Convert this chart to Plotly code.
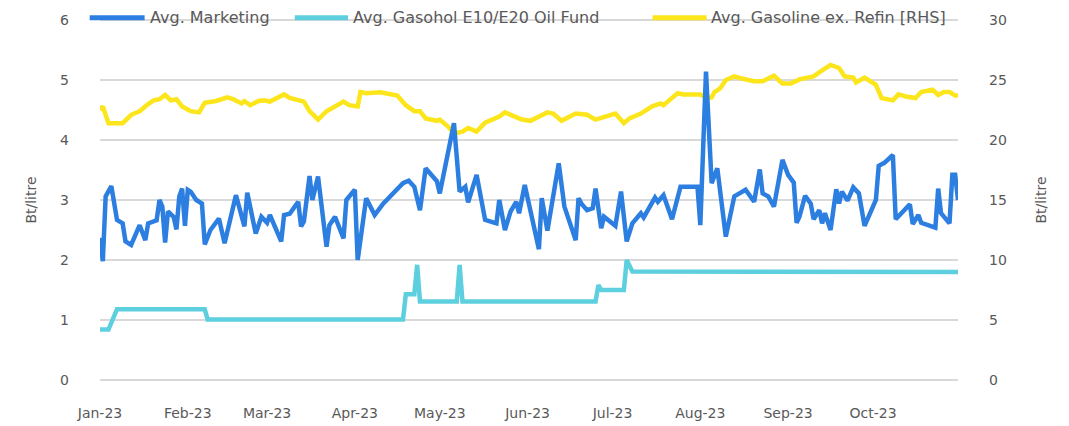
import pandas as pd
import plotly.graph_objects as go

# ---------------- data (day offset from 1 Jan 2023, value) ----------------
mkt_days = [0, 1, 2, 4, 6, 8, 9, 11, 14, 16, 17, 20, 21, 22, 23, 24, 26, 27, 28, 29,
            30, 31, 32, 34, 36, 37, 39, 42, 44, 46, 48, 51, 52, 55, 57, 59, 60, 64, 65, 67,
            70, 71, 72, 74, 75, 77, 80, 81, 83, 86, 87, 90, 91, 94, 97, 100, 106, 107, 109, 111,
            113, 115, 119, 120, 125, 127, 129, 130, 133, 136, 138, 140, 141, 143, 145, 147, 148, 150, 155, 156,
            158, 162, 164, 168, 169, 170, 172, 174, 175, 177, 178, 182, 184, 186, 188, 191, 192, 196, 197, 199,
            202, 205, 211, 212, 214, 216, 218, 221, 224, 227, 228, 231, 233, 234, 236, 238, 241, 243, 245, 246,
            247, 249, 251, 252, 254, 255, 256, 258, 260, 261, 262, 264, 266, 268, 270, 274, 275, 277, 280, 281,
            286, 287, 289, 290, 295, 296, 297, 300, 301, 302, 303]
mkt_vals = [2.37, 1.98, 3.06, 3.23, 2.67, 2.61, 2.31, 2.25, 2.58, 2.33, 2.61, 2.66, 3.0, 2.89, 2.29, 2.81, 2.72, 2.51, 3.06, 3.19,
            2.57, 3.17, 3.14, 3.0, 2.94, 2.26, 2.5, 2.69, 2.28, 2.72, 3.08, 2.56, 3.12, 2.44, 2.72, 2.62, 2.75, 2.31, 2.75, 2.77,
            2.97, 2.56, 2.64, 3.4, 3.0, 3.39, 2.22, 2.58, 2.72, 2.36, 3.0, 3.17, 2.0, 3.03, 2.75, 2.94, 3.22, 3.28, 3.32, 3.22,
            2.83, 3.53, 3.31, 3.11, 4.28, 3.14, 3.22, 2.96, 3.42, 2.67, 2.64, 2.61, 3.0, 2.5, 2.81, 2.97, 2.78, 3.25, 2.18, 3.03,
            2.49, 3.61, 2.89, 2.33, 3.03, 2.94, 2.83, 2.86, 3.19, 2.53, 2.72, 2.57, 3.14, 2.31, 2.61, 2.78, 2.71, 3.04, 2.97, 3.08,
            2.68, 3.22, 3.22, 2.58, 5.14, 3.28, 3.53, 2.39, 3.06, 3.14, 3.17, 2.97, 3.51, 3.11, 3.06, 2.89, 3.67, 3.42, 3.29, 2.62,
            2.72, 3.07, 2.94, 2.68, 2.83, 2.61, 2.78, 2.5, 3.18, 2.94, 3.14, 2.99, 3.21, 3.11, 2.57, 3.0, 3.57, 3.62, 3.75, 2.68,
            2.93, 2.6, 2.75, 2.62, 2.54, 3.19, 2.78, 2.61, 3.42, 3.42, 3.0]

fund_days = [0, 3, 6, 37, 38, 107, 108, 111, 112, 113, 126, 127, 128, 175, 176, 177, 185, 186, 188, 303]
fund_vals = [0.84, 0.84, 1.18, 1.18, 1.01, 1.01, 1.43, 1.43, 1.92, 1.31, 1.31, 1.92, 1.31, 1.31, 1.58, 1.5, 1.5, 2.0, 1.81, 1.8]

gas_days = [0, 1, 3, 8, 11, 14, 17, 19, 21, 23, 25, 27, 29, 32, 35, 37, 41, 45, 47, 50,
            51, 53, 56, 58, 60, 63, 65, 67, 70, 72, 74, 77, 80, 84, 86, 88, 91, 92, 94, 99,
            105, 108, 111, 113, 115, 119, 120, 123, 125, 128, 130, 132, 133, 136, 141, 143, 146, 149, 152, 155,
            158, 160, 163, 168, 172, 175, 182, 185, 187, 191, 195, 198, 199, 201, 204, 206, 212, 214, 216, 217,
            219, 221, 224, 227, 231, 234, 238, 241, 244, 247, 252, 255, 258, 261, 263, 266, 267, 270, 274, 276,
            280, 282, 285, 288, 290, 294, 296, 298, 300, 302, 303]
gas_vals = [22.5, 22.8, 21.4, 21.4, 22.1, 22.4, 23.0, 23.3, 23.4, 23.75, 23.3, 23.4, 22.8, 22.4, 22.3, 23.1, 23.25, 23.55, 23.4, 23.05,
            23.25, 22.9, 23.25, 23.3, 23.2, 23.5, 23.8, 23.5, 23.3, 23.2, 22.4, 21.7, 22.4, 22.9, 23.2, 22.9, 22.8, 24.0, 23.9, 23.97,
            23.7, 22.9, 22.4, 22.4, 21.8, 21.6, 21.7, 21.1, 20.55, 20.7, 21.0, 20.8, 20.7, 21.45, 21.95, 22.3, 22.0, 21.7, 21.6, 21.9,
            22.3, 22.2, 21.6, 22.2, 22.1, 21.7, 22.2, 21.4, 21.8, 22.2, 22.8, 23.05, 22.9, 23.3, 23.9, 23.8, 23.8, 23.5, 23.55, 24.0,
            24.3, 25.0, 25.3, 25.1, 24.9, 24.9, 25.35, 24.7, 24.7, 25.05, 25.3, 25.8, 26.25, 26.0, 25.3, 25.2, 24.8, 25.2, 24.6, 23.5,
            23.3, 23.8, 23.6, 23.5, 24.0, 24.2, 23.75, 24.0, 24.0, 23.7, 23.7]

month_ticks = ["2023-01-01", "2023-02-01", "2023-03-01", "2023-04-01", "2023-05-01",
               "2023-06-01", "2023-07-01", "2023-08-01", "2023-09-01", "2023-10-01"]
month_labels = ["Jan-23", "Feb-23", "Mar-23", "Apr-23", "May-23",
                "Jun-23", "Jul-23", "Aug-23", "Sep-23", "Oct-23"]

series_names = ["Avg. Marketing", "Avg. Gasohol E10/E20 Oil Fund", "Avg. Gasoline ex. Refin [RHS]"]
series_colors = ["#2C7FE0", "#5DCFDE", "#FCE51A"]

base = pd.Timestamp("2023-01-01")
to_dates = lambda d: [base + pd.Timedelta(days=int(x)) for x in d]

FONT = "DejaVu Sans"
GREY = "#595959"

fig = go.Figure()
# right-axis series on the base axis so left-axis series draw on top
fig.add_trace(go.Scatter(x=to_dates(gas_days), y=gas_vals, yaxis="y", mode="lines",
                         line=dict(color=series_colors[2], width=4.5), name=series_names[2], showlegend=False))
fig.add_trace(go.Scatter(x=to_dates(fund_days), y=fund_vals, yaxis="y2", mode="lines",
                         line=dict(color=series_colors[1], width=4.5), name=series_names[1], showlegend=False))
fig.add_trace(go.Scatter(x=to_dates(mkt_days), y=mkt_vals, yaxis="y2", mode="lines",
                         line=dict(color=series_colors[0], width=4.5), name=series_names[0], showlegend=False))

# manual legend (paper coords; plot spans 0..1)
leg_x = [(-0.012, 0.052, 0.056), (0.227, 0.289, 0.292), (0.644, 0.707, 0.710)]
LEG_Y = 0.998
shapes = []
annotations = []
for (x0, x1, xt), nm, col in zip(leg_x, series_names, series_colors):
    shapes.append(dict(type="line", xref="paper", yref="paper", x0=x0, x1=x1, y0=LEG_Y, y1=LEG_Y,
                       line=dict(color=col, width=5)))
    annotations.append(dict(xref="paper", yref="paper", x=xt, y=LEG_Y, xanchor="left", yanchor="middle",
                            text=nm, showarrow=False, font=dict(family=FONT, size=16, color=GREY)))

tf = dict(family=FONT, size=14, color=GREY)
fig.update_layout(
    width=1069, height=426, autosize=False,
    margin=dict(l=100, r=111, t=17, b=43),
    paper_bgcolor="white", plot_bgcolor="white",
    font=tf,
    shapes=shapes, annotations=annotations,
    xaxis=dict(type="date", range=["2023-01-01", "2023-10-31"], tickvals=month_ticks, ticktext=month_labels,
               showgrid=False, zeroline=False, showline=False, ticks="", automargin=False,
               tickfont=tf, ticklabelstandoff=20),
    yaxis=dict(side="right", range=[-0.25, 30.25], tickvals=[0, 5, 10, 15, 20, 25, 30],
               showgrid=True, gridcolor="#D9D9D9", gridwidth=1.5,
               zeroline=False, showline=False, ticks="", automargin=False,
               tickfont=tf, ticklabelstandoff=30,
               title=dict(text="Bt/litre", font=tf, standoff=30)),
    yaxis2=dict(overlaying="y", side="left", range=[-0.05, 6.05], tickvals=[0, 1, 2, 3, 4, 5, 6], showgrid=False,
                zeroline=False, showline=False, ticks="", automargin=False,
                tickfont=tf, ticklabelstandoff=30,
                title=dict(text="Bt/litre", font=tf, standoff=20)),
)

fig.write_html("out.html", config={"displayModeBar": False},
               post_script="document.body.style.margin='0';")
